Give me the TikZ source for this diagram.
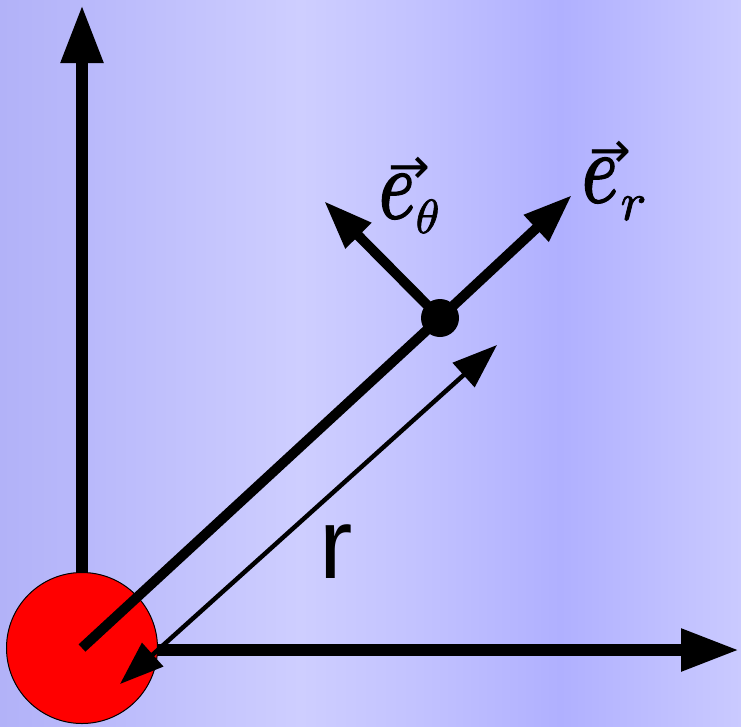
\documentclass[tikz,border=0pt]{standalone}
\usepackage{graphicx}
\usepackage{fontspec}
\newfontfamily\sansr{Liberation Sans}
\newfontfamily\dvs{DejaVu Sans}
\newfontfamily\lme{latinmodern-math.otf}[FakeStretch=0.76,FakeBold=2]
\newfontfamily\lmm{latinmodern-math.otf}[FakeBold=1.5]
\usetikzlibrary{arrows.meta}
\definecolor{bgA}{RGB}{178,178,248}
\definecolor{bgB}{RGB}{186,186,251}
\definecolor{bgC}{RGB}{206,206,255}
\definecolor{bgD}{RGB}{194,194,255}
\definecolor{bgE}{RGB}{176,176,255}
\definecolor{bgF}{RGB}{202,202,255}
\newcommand{\arrowacc}[2]{\rlap{\hspace{#1}\raisebox{#2}{\fontsize{50}{50}\selectfont\dvs →}}}
\tikzset{
  axisline/.style={line width=11.5pt,-{Triangle[length=58pt,width=40pt]}},
  vecline/.style={line width=10pt,-{Triangle[length=49pt,width=34pt]}},
  rline/.style={line width=4.5pt,{Triangle[length=44pt,width=31pt]}-{Triangle[length=45pt,width=32pt]}},
  lbl/.style={inner sep=0pt,anchor=base west}
}
\begin{document}
\begin{tikzpicture}[x=1pt,y=-1pt]
\useasboundingbox (0,0) rectangle (741,726);
% background bands
\shade[left color=bgA,right color=bgB] (0,0) rectangle (100.5,726);
\shade[left color=bgB,right color=bgC] (100,0) rectangle (300.5,726);
\shade[left color=bgC,right color=bgD] (300,0) rectangle (420.5,726);
\shade[left color=bgD,right color=bgE] (420,0) rectangle (560.5,726);
\shade[left color=bgE,right color=bgF] (560,0) rectangle (741,726);
% coordinates
\coordinate (O) at (82,650);
\coordinate (ytip) at (82,5);
\coordinate (xtip) at (739,650);
\coordinate (bl) at (120,684);
\coordinate (tr) at (497,345);
\coordinate (ertip) at (572,195);
\coordinate (ettip) at (324,201);
% axes
\draw[axisline] (O) -- (ytip);
\draw[axisline] (O) -- (xtip);
% source
\node[circle,fill=red,draw=black,line width=1pt,minimum size=151pt,inner sep=0pt] (src) at (82,648) {};
% point
\node[circle,fill=black,minimum size=38pt,inner sep=0pt] (P) at (440,318) {};
\draw[line width=10pt] (src.center) -- (P.center);
\draw[rline] (bl) -- (tr);
\draw[vecline] (P.center) -- (ertip);
\draw[vecline] (P.center) -- (ettip);
% labels
\node[lbl] (lt) at (379,218) {\arrowacc{9pt}{35pt}{\lme\fontsize{100}{100}\selectfont 𝑒}\hspace{1pt}\raisebox{-15pt}{\lmm\fontsize{48}{48}\selectfont 𝜃}};
\node[lbl] (lr) at (582,202) {\arrowacc{7pt}{34.5pt}{\lme\fontsize{100}{100}\selectfont 𝑒}\hspace{3pt}\raisebox{-18pt}{\lmm\fontsize{54}{54}\selectfont 𝑟}};
\node[lbl] (lrr) at (319,578) {\fontsize{100}{100}\selectfont\sansr r};
\end{tikzpicture}
\end{document}
